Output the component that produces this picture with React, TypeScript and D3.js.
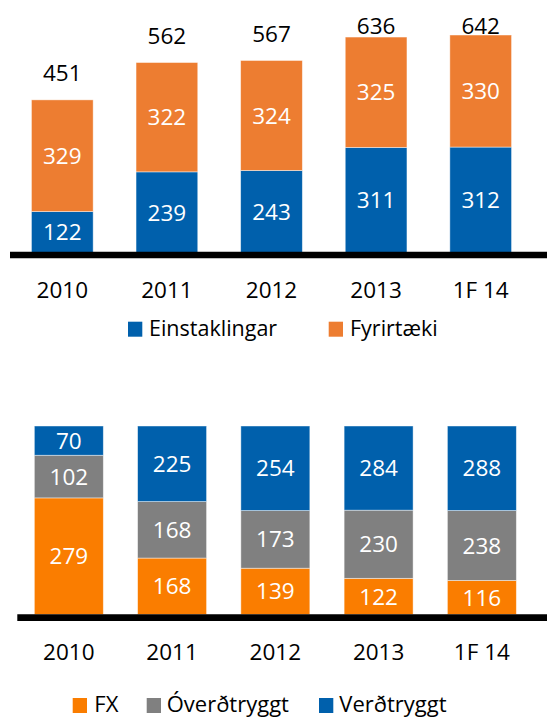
import React from "react";
import * as d3 from "d3";

const categories = ["2010", "2011", "2012", "2013", "1F 14"];
const einstaklingar = [122, 239, 243, 311, 312];
const fyrirtaeki = [329, 322, 324, 325, 330];
const totals = [451, 562, 567, 636, 642];

const fx = [279, 168, 139, 122, 116];
const overdtryggt = [102, 168, 173, 230, 238];
const verdtryggt = [70, 225, 254, 284, 288];

const topSeries = [
  { key: "Einstaklingar", values: einstaklingar, color: "#0060AC" },
  { key: "Fyrirtæki", values: fyrirtaeki, color: "#ED7D31" },
];
const bottomSeries = [
  { key: "FX", values: fx, color: "#FA7D00" },
  { key: "Óverðtryggt", values: overdtryggt, color: "#808080" },
  { key: "Verðtryggt", values: verdtryggt, color: "#0060AC" },
];

const FONT = "'Open Sans', Lato, sans-serif";
const VAL_FS = 22.5;

export default function App() {
  const W = 547;
  const H = 718;

  const xTop = d3.scaleBand<string>().domain(categories).range([10, 533]).paddingInner(0.41).paddingOuter(0.205);
  const yTop = d3.scaleLinear().domain([0, 650]).range([253, 32.3]);

  const topStack = d3
    .stack<number>()
    .keys(topSeries.map((s) => s.key))
    .value((i, key) => topSeries.find((s) => s.key === key)!.values[i])(categories.map((_, i) => i));

  const xBot = d3.scaleBand<string>().domain(categories).range([17.2, 533.5]).paddingInner(0.332).paddingOuter(0.166);
  const yBot = d3.scaleLinear().domain([0, 1]).range([614.5, 426]);

  const botStack = d3
    .stack<number>()
    .keys(bottomSeries.map((s) => s.key))
    .value((i, key) => bottomSeries.find((s) => s.key === key)!.values[i])
    .offset(d3.stackOffsetExpand)(categories.map((_, i) => i));

  return (
    <svg width={W} height={H} style={{ position: "absolute", left: 0, top: 0, display: "block" }} fontFamily={FONT}>
      <rect width={W} height={H} fill="#fff" />
      {topStack.map((layer, li) => (
        <g key={layer.key}>
          {layer.map((d, i) => {
            const x = xTop(categories[i])!;
            const y1 = yTop(d[1]);
            const y0 = yTop(d[0]);
            return (
              <g key={i}>
                <rect x={x} y={y1} width={xTop.bandwidth()} height={y0 - y1} fill={topSeries[li].color} stroke="rgba(255,255,255,0.55)" strokeWidth={0.8} />
                <text x={x + xTop.bandwidth() / 2} y={(y0 + y1) / 2} dy="0.36em" textAnchor="middle" fill="#fff" fontSize={VAL_FS}>
                  {topSeries[li].values[i]}
                </text>
              </g>
            );
          })}
        </g>
      ))}
      {totals.map((t, i) => (
        <text key={i} x={xTop(categories[i])! + xTop.bandwidth() / 2} y={Math.max(yTop(t) - 18.5, 33.5)} textAnchor="middle" fill="#000" fontSize={VAL_FS}>
          {t}
        </text>
      ))}
      <line x1={10} x2={547} y1={255} y2={255} stroke="#000" strokeWidth={6.6} />
      {categories.map((c) => (
        <text key={c} x={xTop(c)! + xTop.bandwidth() / 2} y={298.3} textAnchor="middle" fill="#000" fontSize={VAL_FS}>
          {c}
        </text>
      ))}
      <rect x={128} y={321.7} width={14.3} height={15} fill={topSeries[0].color} />
      <text x={149} y={336} fontSize={21.5} fill="#000">{topSeries[0].key}</text>
      <rect x={328.7} y={321.7} width={14.3} height={15} fill={topSeries[1].color} />
      <text x={350} y={336} fontSize={21.5} fill="#000">{topSeries[1].key}</text>

      {botStack.map((layer, li) => (
        <g key={layer.key}>
          {layer.map((d, i) => {
            const x = xBot(categories[i])!;
            const y1 = yBot(d[1]);
            const y0 = yBot(d[0]);
            return (
              <g key={i}>
                <rect x={x} y={y1} width={xBot.bandwidth()} height={y0 - y1} fill={bottomSeries[li].color} stroke="rgba(255,255,255,0.55)" strokeWidth={0.8} />
                <text x={x + xBot.bandwidth() / 2} y={(y0 + y1) / 2} dy="0.36em" textAnchor="middle" fill="#fff" fontSize={VAL_FS}>
                  {bottomSeries[li].values[i]}
                </text>
              </g>
            );
          })}
        </g>
      ))}
      <line x1={17.3} x2={547} y1={617.7} y2={617.7} stroke="#000" strokeWidth={6.7} />
      {categories.map((c) => (
        <text key={c} x={xBot(c)! + xBot.bandwidth() / 2} y={660} textAnchor="middle" fill="#000" fontSize={VAL_FS}>
          {c}
        </text>
      ))}
      {[
        { sx: 72.7, tx: 94.3 },
        { sx: 146.7, tx: 166.7 },
        { sx: 319, tx: 339.3 },
      ].map((p, i) => (
        <g key={i}>
          <rect x={p.sx} y={698} width={14.3} height={15} fill={bottomSeries[i].color} />
          <text x={p.tx} y={711.7} fontSize={22} fill="#000">{bottomSeries[i].key}</text>
        </g>
      ))}
    </svg>
  );
}
